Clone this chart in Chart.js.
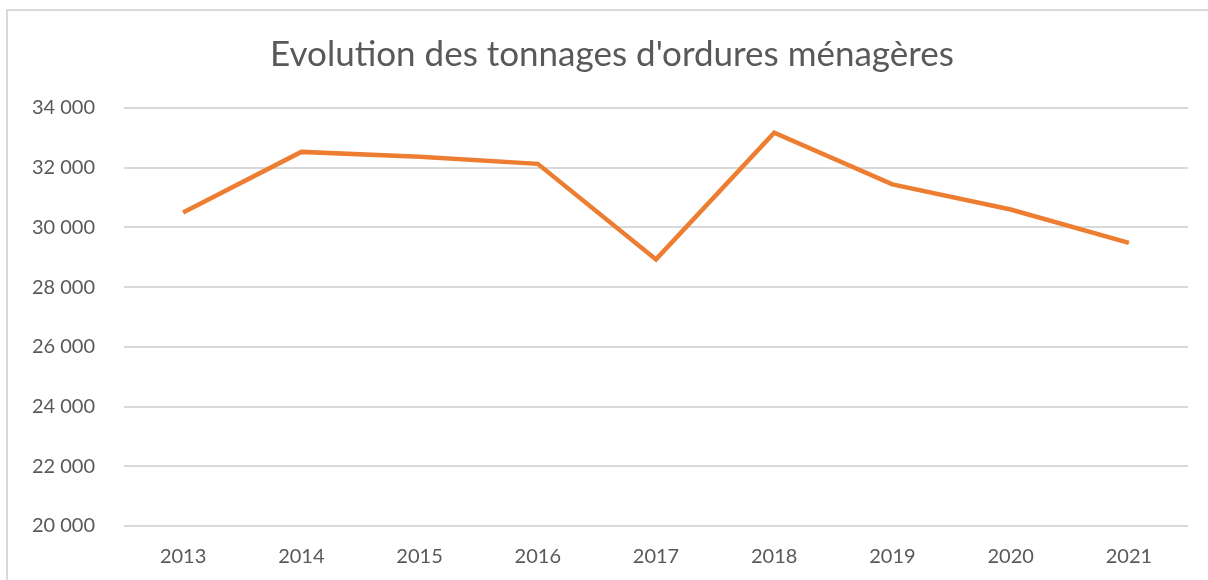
<!DOCTYPE html>
<html>
<head>
<meta charset="utf-8">
<script src="https://cdn.jsdelivr.net/npm/chart.js@4"></script>
<style>
  html, body { margin: 0; padding: 0; background: #fff; overflow: hidden; }
  #frame { position: absolute; left: 6px; top: 9px; width: 1300px; height: 700px; border: 2px solid #d9d9d9; }
  #wrap { position: absolute; left: 0; top: 0; width: 1208px; height: 580px; }
</style>
</head>
<body>
<div id="frame"></div>
<div id="wrap"><canvas id="chart" width="1208" height="580"></canvas></div>
<script>
// données
const years = ['2013', '2014', '2015', '2016', '2017', '2018', '2019', '2020', '2021'];
const tonnages = [30500, 32530, 32370, 32130, 28930, 33170, 31440, 30600, 29480];
const yMin = 20000;
const yMax = 34000;
const yStep = 2000;

const fontFamily = 'Lato, "Open Sans", sans-serif';
const textColor = '#595959';

function formatThousands(v) {
    return String(v).replace(/\B(?=(\d{3})+(?!\d))/g, ' ');
}

new Chart(document.getElementById('chart'), {
    type: 'line',
    data: {
        labels: years,
        datasets: [{
            data: tonnages,
            borderColor: '#ED7D31',
            borderWidth: 4.5,
            pointRadius: 0,
            tension: 0,
            fill: false
        }]
    },
    options: {
        responsive: false,
        animation: false,
        layout: { padding: { left: 16, right: 0, top: 0, bottom: 0 } },
        plugins: {
            legend: { display: false },
            tooltip: { enabled: false },
            title: {
                display: true,
                text: "Evolution des tonnages d'ordures ménagères",
                color: textColor,
                font: { family: fontFamily, size: 35, weight: 'normal' },
                padding: { top: 34, bottom: 32 }
            }
        },
        scales: {
            x: {
                offset: true,
                grid: { display: false },
                border: { display: false },
                ticks: { color: textColor, font: { family: fontFamily, size: 20 }, padding: 11, maxRotation: 0 },
                afterFit: s => { s.height = 54; }
            },
            y: {
                min: yMin,
                max: yMax,
                border: { display: false },
                grid: { color: '#d9d9d9', lineWidth: 2, drawTicks: false },
                ticks: {
                    stepSize: yStep,
                    color: textColor,
                    font: { family: fontFamily, size: 20 },
                    padding: 29,
                    callback: v => formatThousands(v)
                },
                afterFit: s => { s.width = 108; }
            },
            // axe vide à droite, juste pour la marge
            yRight: {
                position: 'right',
                min: yMin,
                max: yMax,
                border: { display: false },
                grid: { display: false },
                ticks: { display: false },
                afterFit: s => { s.width = 20; }
            }
        }
    }
});
</script>
</body>
</html>
